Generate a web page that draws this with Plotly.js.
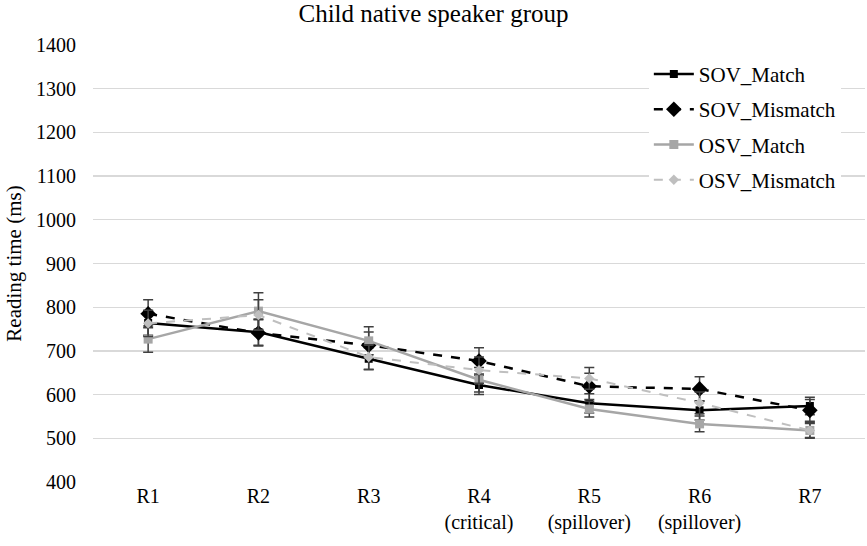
<!DOCTYPE html>
<html>
<head>
<meta charset="utf-8">
<script src="https://cdn.plot.ly/plotly-3.0.1.min.js"></script>
<style>html,body{margin:0;padding:0;background:#fff;}#chart{width:867px;height:546px;}</style>
</head>
<body>
<div id="chart"></div>
<script>
const regions = ["R1", "R2", "R3", "R4<br>(critical)", "R5<br>(spillover)", "R6<br>(spillover)", "R7"];
const sovMatch = [764, 743, 682, 622, 580, 564, 574];
const sovMatchErr = [28, 30, 25, 22, 22, 22, 20];
const sovMismatch = [785, 741, 713, 677, 619, 613, 564];
const sovMismatchErr = [32, 30, 30, 30, 30, 28, 25];
const osvMatch = [727, 791, 723, 634, 567, 533, 518];
const osvMatchErr = [30, 42, 32, 28, 18, 18, 16];
const osvMismatch = [763, 782, 686, 656, 637, 581, 518];
const osvMismatchErr = [30, 35, 28, 30, 25, 25, 18];

const errStyle = (arr) => ({type: 'data', array: arr, visible: true, color: '#404040', thickness: 1.5, width: 5});

const traces = [
  {name: 'SOV_Match', x: regions, y: sovMatch, error_y: errStyle(sovMatchErr), legendgroup: 'a',
   mode: 'lines+markers', line: {color: '#000000', width: 2.5}, marker: {symbol: 'square', size: 8, color: '#000000'}},
  {name: 'SOV_Mismatch', x: regions, y: sovMismatch, error_y: errStyle(sovMismatchErr), legendgroup: 'b',
   mode: 'lines+markers', line: {color: '#000000', width: 2.5, dash: 'dash'}, marker: {symbol: 'diamond', size: 12, color: '#000000'}},
  {name: 'OSV_Match', x: regions, y: osvMatch, error_y: errStyle(osvMatchErr), legendgroup: 'c',
   mode: 'lines+markers', line: {color: '#a6a6a6', width: 2.5}, marker: {symbol: 'square', size: 9, color: '#a6a6a6'}},
  {name: 'OSV_Mismatch', x: regions, y: osvMismatch, error_y: errStyle(osvMismatchErr), legendgroup: 'd',
   mode: 'lines+markers', line: {color: '#bfbfbf', width: 2, dash: 'dash'}, marker: {symbol: 'diamond', size: 8, color: '#bfbfbf'}}
];

const serif = 'Liberation Serif, Times New Roman, serif';
const layout = {
  width: 867, height: 546,
  margin: {l: 93, r: 2, t: 45, b: 64},
  paper_bgcolor: '#ffffff', plot_bgcolor: '#ffffff',
  font: {family: serif, color: '#000000', size: 20},
  title: {text: 'Child native speaker group', font: {family: serif, size: 25, color: '#000'}, x: 0.5, xanchor: 'center', y: 0.975, yanchor: 'middle'},
  xaxis: {
    type: 'category', range: [-0.5, 6.5], showgrid: false, zeroline: false, showline: false,
    ticks: '', tickfont: {family: serif, size: 20, color: '#000'}, fixedrange: true
  },
  yaxis: {
    range: [400, 1400], dtick: 100, tick0: 400, showgrid: true, gridcolor: '#d9d9d9', gridwidth: 1.3,
    zeroline: false, showline: false, ticks: '', ticklen: 0, ticklabelstandoff: 16,
    tickfont: {family: serif, size: 20, color: '#000'},
    title: {text: 'Reading time (ms)', font: {family: serif, size: 21, color: '#000'}, standoff: 8}
  },
  showlegend: true,
  legend: {
    x: 0.72, y: 0.98, xanchor: 'left', yanchor: 'top',
    bgcolor: '#ffffff', borderwidth: 0,
    font: {family: serif, size: 21, color: '#000'},
    tracegroupgap: 5, itemwidth: 40
  }
};

Plotly.newPlot('chart', traces, layout, {displayModeBar: false, staticPlot: true});
</script>
</body>
</html>
